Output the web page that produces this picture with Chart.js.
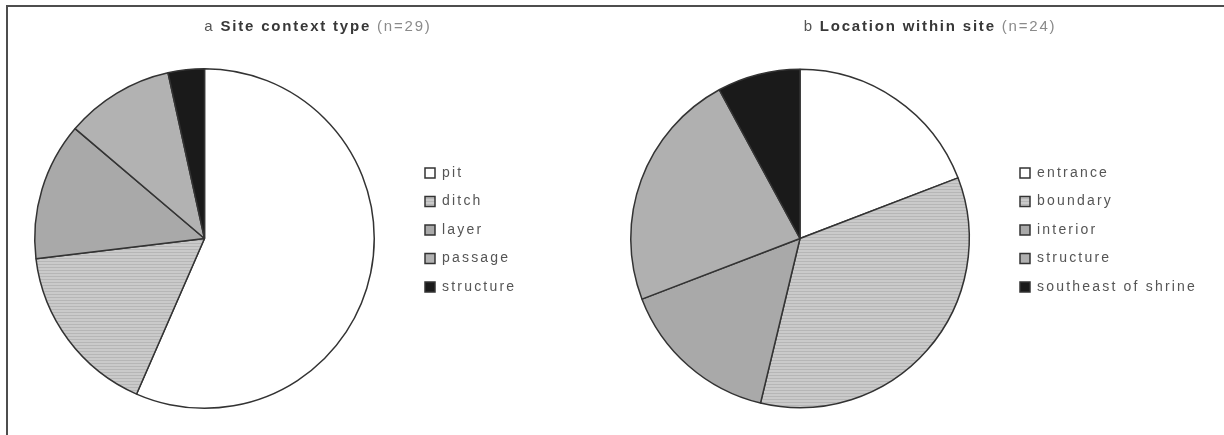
<!DOCTYPE html>
<html>
<head>
<meta charset="utf-8">
<title>Site context type / Location within site</title>
<script src="https://cdn.jsdelivr.net/npm/chart.js@4.4.1/dist/chart.umd.min.js"></script>
<style>
  html, body { margin: 0; padding: 0; background: #fff; }
  body { width: 1224px; height: 435px; position: relative; overflow: hidden; }
  #frame {
    position: absolute; left: 6px; top: 5px; right: 0; bottom: 0;
    border-top: 2px solid #4d4d4d; border-left: 2px solid #4d4d4d;
  }
  .panel { position: absolute; top: 0; width: 612px; height: 435px; }
  #panelA { left: 0; }
  #panelB { left: 612px; }
</style>
</head>
<body>
<div id="frame"></div>
<div class="panel" id="panelA"><canvas id="chartA"></canvas></div>
<div class="panel" id="panelB"><canvas id="chartB"></canvas></div>
<script>
// a: site context type (n=29)
const contextLabels = ["pit", "ditch", "layer", "passage", "structure"];
const contextCounts = [16.4, 4.8, 3.8, 3.0, 1.0];
const contextTitle = ["a ", "Site context type", " (n=29)"];

// b: location within site (n=24)
const locationLabels = ["entrance", "boundary", "interior", "structure", "southeast of shrine"];
const locationCounts = [4.6, 8.3, 3.7, 5.5, 1.9];
const locationTitle = ["b ", "Location within site", " (n=24)"];

const FONT = "'Liberation Sans', Arial, Helvetica, sans-serif";

// light grey with fine horizontal lines (the hatched slices)
function hatch() {
  const c = document.createElement("canvas");
  c.width = 4;
  c.height = 3;
  const g = c.getContext("2d");
  g.fillStyle = "#cacaca";
  g.fillRect(0, 0, 4, 3);
  g.fillStyle = "#b6b6b6";
  g.fillRect(0, 0, 4, 1);
  return g.createPattern(c, "repeat");
}

const contextColors = ["#ffffff", hatch(), "#a9a9a9", "#b2b2b2", "#1a1a1a"];
const locationColors = ["#ffffff", hatch(), "#a9a9a9", "#b0b0b0", "#1a1a1a"];

// title with mixed weights, drawn centred above the pie + legend
const panelTitle = {
  id: "panelTitle",
  afterDraw(chart, args, opts) {
    const ctx = chart.ctx;
    const fonts = ["15px " + FONT, "bold 15px " + FONT, "15px " + FONT];
    const colors = ["#555", "#383838", "#8a8a8a"];
    ctx.save();
    ctx.letterSpacing = "1.8px";
    ctx.textAlign = "left";
    ctx.textBaseline = "alphabetic";
    const widths = opts.parts.map((p, i) => {
      ctx.font = fonts[i];
      return ctx.measureText(p).width;
    });
    let x = opts.x - widths.reduce((a, b) => a + b, 0) / 2;
    opts.parts.forEach((p, i) => {
      ctx.font = fonts[i];
      ctx.fillStyle = colors[i];
      ctx.fillText(p, x, opts.y);
      x += widths[i];
    });
    ctx.restore();
  },
};

// put the legend block where it sits in the figure
const legendSpot = {
  id: "legendSpot",
  afterLayout(chart, args, opts) {
    const lg = chart.legend;
    const pad = lg.options.labels.padding;
    lg.left = opts.x - pad;
    lg.right = chart.width;
    lg.top = opts.y - pad;
    lg.bottom = chart.height;
  },
  beforeDraw(chart) {
    chart.ctx.letterSpacing = "2.2px";
  },
};

function makePie(id, labels, values, colors, title, pad, legendPos) {
  return new Chart(document.getElementById(id), {
    type: "pie",
    data: {
      labels: labels,
      datasets: [{
        data: values,
        backgroundColor: colors,
        borderColor: "#333",
        borderWidth: 1.5,
        hoverOffset: 0,
      }],
    },
    options: {
      responsive: true,
      maintainAspectRatio: false,
      animation: false,
      events: [],
      layout: { padding: pad },
      plugins: {
        title: { display: false },
        tooltip: { enabled: false },
        legend: {
          display: true,
          position: "chartArea",
          align: "start",
          labels: {
            boxWidth: 10,
            boxHeight: 10,
            padding: 14.5,
            color: "#555",
            font: { family: FONT, size: 14 },
          },
        },
        legendSpot: legendPos,
        panelTitle: { parts: title, x: 318, y: 31 },
      },
    },
    plugins: [legendSpot, panelTitle],
  });
}

makePie("chartA", contextLabels, contextCounts, contextColors, contextTitle,
  { top: 68, bottom: 26, left: 34, right: 237 }, { x: 425, y: 166 });
makePie("chartB", locationLabels, locationCounts, locationColors, locationTitle,
  { top: 68, bottom: 26, left: 18, right: 254 }, { x: 408, y: 166 });
</script>
</body>
</html>
